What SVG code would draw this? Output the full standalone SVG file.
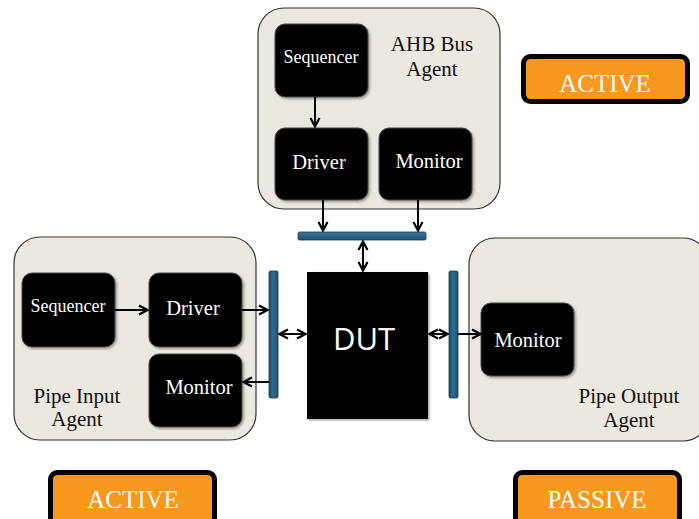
<svg xmlns="http://www.w3.org/2000/svg" width="699" height="519" viewBox="0 0 699 519">
  <defs>
    <marker id="arrow" viewBox="0 0 12 12" refX="11" refY="6" markerWidth="12" markerHeight="12" markerUnits="userSpaceOnUse" orient="auto-start-reverse">
      <path d="M2,1.5 L10.5,6 L2,10.5" fill="none" stroke="#000" stroke-width="2.2"/>
    </marker>
    <filter id="soft" x="-10%" y="-10%" width="130%" height="130%">
      <feDropShadow dx="1.5" dy="1.5" stdDeviation="1.2" flood-color="#000" flood-opacity="0.35"/>
    </filter>
    <linearGradient id="barV" x1="0" y1="0" x2="1" y2="0">
      <stop offset="0" stop-color="#1f4f6e"/>
      <stop offset="0.5" stop-color="#2e6c93"/>
      <stop offset="1" stop-color="#1f4f6e"/>
    </linearGradient>
    <linearGradient id="barH" x1="0" y1="0" x2="0" y2="1">
      <stop offset="0" stop-color="#3a7aa3"/>
      <stop offset="1" stop-color="#1f4f6e"/>
    </linearGradient>
  </defs>
  <style>
    .agent { fill: #ebe8e1; stroke: #333; stroke-width: 1.2; }
    .block { fill: #000; stroke: #4a4a4a; stroke-width: 1; filter: url(#soft); }
    .bus { stroke: #1a3a50; stroke-width: 0.8; }
    .badge { fill: #f7981f; stroke: #000; stroke-width: 5; }
    .label { font-family: "Liberation Serif", "Times New Roman", serif; fill: #111; text-anchor: middle; }
    .btxt { font-family: "Liberation Serif", "Times New Roman", serif; fill: #fff; text-anchor: middle; }
    .wire { stroke: #000; stroke-width: 2; fill: none; }
    .one { marker-end: url(#arrow); }
    .two { marker-start: url(#arrow); marker-end: url(#arrow); }
  </style>

  <rect width="699" height="519" fill="#fff"/>

  <!-- AHB bus agent -->
  <g id="ahb-agent">
    <rect class="agent" x="258" y="8" width="242" height="201" rx="26"/>
    <text class="label" x="432" y="51" font-size="21">AHB Bus</text>
    <text class="label" x="432" y="76" font-size="21">Agent</text>
  </g>
  <g id="ahb-sequencer">
    <rect class="block" x="275" y="24" width="93" height="73" rx="10"/>
    <text class="btxt" x="321" y="63" font-size="18">Sequencer</text>
  </g>
  <g id="ahb-driver">
    <rect class="block" x="275" y="128" width="93" height="72" rx="10"/>
    <text class="btxt" x="319" y="169" font-size="20.5">Driver</text>
  </g>
  <g id="ahb-monitor">
    <rect class="block" x="379" y="128" width="93" height="72" rx="10"/>
    <text class="btxt" x="429" y="168" font-size="20.5">Monitor</text>
  </g>

  <!-- Pipe input agent -->
  <g id="pipe-input-agent">
    <rect class="agent" x="14" y="237" width="242" height="203" rx="26"/>
    <text class="label" x="77" y="403" font-size="21">Pipe Input</text>
    <text class="label" x="77" y="426" font-size="21">Agent</text>
  </g>
  <g id="pin-sequencer">
    <rect class="block" x="22" y="273" width="93" height="74" rx="10"/>
    <text class="btxt" x="68" y="312" font-size="18">Sequencer</text>
  </g>
  <g id="pin-driver">
    <rect class="block" x="149" y="273" width="93" height="74" rx="10"/>
    <text class="btxt" x="193" y="315" font-size="20.5">Driver</text>
  </g>
  <g id="pin-monitor">
    <rect class="block" x="149" y="354" width="93" height="73" rx="10"/>
    <text class="btxt" x="199" y="394" font-size="20.5">Monitor</text>
  </g>

  <!-- Pipe output agent -->
  <g id="pipe-output-agent">
    <rect class="agent" x="469" y="238" width="240" height="203" rx="26"/>
    <text class="label" x="629" y="403" font-size="21">Pipe Output</text>
    <text class="label" x="629" y="427" font-size="21">Agent</text>
  </g>
  <g id="pout-monitor">
    <rect class="block" x="481" y="303" width="93" height="73" rx="10"/>
    <text class="btxt" x="528" y="347" font-size="20.5">Monitor</text>
  </g>

  <!-- Bus interfaces -->
  <g id="ahb-if">
    <rect class="bus" x="298" y="232" width="128" height="8" rx="1.5" fill="url(#barH)"/>
  </g>
  <g id="pin-if">
    <rect class="bus" x="269" y="271" width="9" height="127" rx="1.5" fill="url(#barV)"/>
  </g>
  <g id="pout-if">
    <rect class="bus" x="449" y="271" width="9" height="127" rx="1.5" fill="url(#barV)"/>
  </g>

  <!-- Design under test -->
  <g id="dut">
    <rect x="307" y="272" width="121" height="147" fill="#000" filter="url(#soft)"/>
    <text x="364" y="350" font-family="'Open Sans', 'Liberation Sans', sans-serif" font-size="31" fill="#fff" text-anchor="middle">DUT</text>
  </g>

  <!-- Connectors -->
  <g id="connectors">
    <line class="wire one" x1="315" y1="97" x2="315" y2="127"/>
    <line class="wire one" x1="323" y1="200" x2="323" y2="231"/>
    <line class="wire one" x1="418" y1="200" x2="418" y2="231"/>
    <line class="wire two" x1="363" y1="241" x2="363" y2="271"/>
    <line class="wire one" x1="115" y1="310" x2="148" y2="310"/>
    <line class="wire one" x1="242" y1="310" x2="268" y2="310"/>
    <line class="wire one" x1="269" y1="382" x2="243" y2="382"/>
    <line class="wire two" x1="279" y1="334" x2="306" y2="334"/>
    <line class="wire two" x1="429" y1="334" x2="448" y2="334"/>
    <line class="wire one" x1="458" y1="334" x2="481" y2="334"/>
  </g>

  <!-- Agent mode badges -->
  <g id="badge-ahb">
    <rect class="badge" x="523.5" y="56.5" width="164" height="45" rx="7"/>
    <text class="btxt" x="605" y="92" font-size="25">ACTIVE</text>
  </g>
  <g id="badge-pin">
    <rect class="badge" x="50.5" y="472.5" width="164" height="52" rx="7"/>
    <text class="btxt" x="133" y="508" font-size="25">ACTIVE</text>
  </g>
  <g id="badge-pout">
    <rect class="badge" x="515.5" y="472.5" width="164" height="52" rx="7"/>
    <text class="btxt" x="597" y="508" font-size="25">PASSIVE</text>
  </g>
</svg>
